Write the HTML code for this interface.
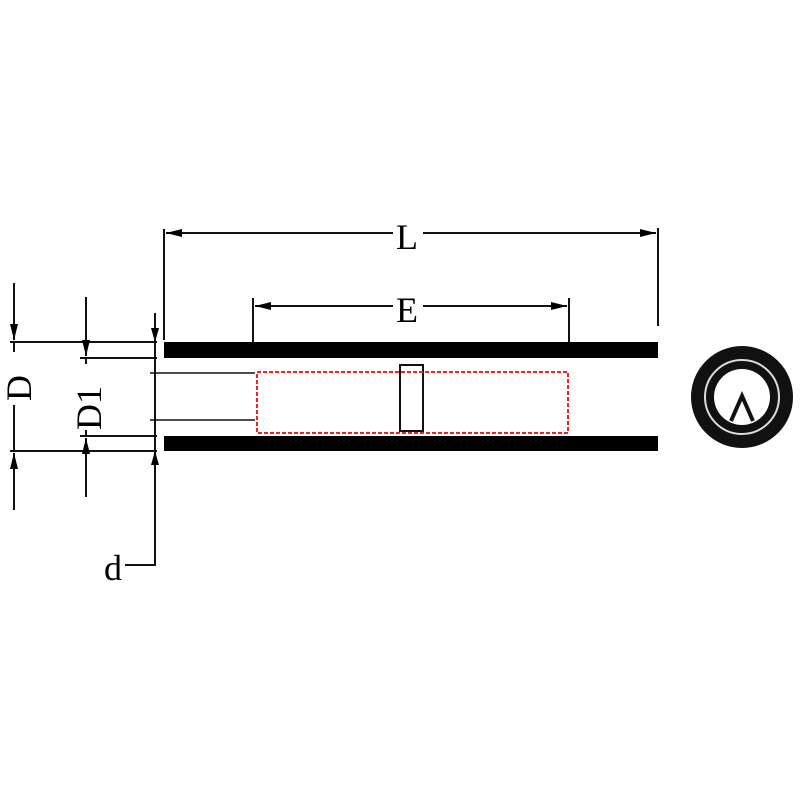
<!DOCTYPE html>
<html><head><style>body{margin:0;background:#fff}</style></head><body>
<svg width="800" height="800" viewBox="0 0 800 800" xmlns="http://www.w3.org/2000/svg" font-family="Liberation Serif, serif">
<defs>
<marker id="a" viewBox="0 0 16 8" refX="16" refY="4" markerWidth="16" markerHeight="8" orient="auto-start-reverse" markerUnits="userSpaceOnUse"><path d="M0,0 L16,4 L0,8 z" fill="#000"/></marker>
</defs>
<g stroke="#111" stroke-width="2" fill="none">
<line x1="164" y1="229" x2="164" y2="340"/>
<line x1="658" y1="228" x2="658" y2="326"/>
<line x1="166" y1="233" x2="656" y2="233" marker-start="url(#a)" marker-end="url(#a)"/>
<line x1="253" y1="298" x2="253" y2="342"/>
<line x1="569" y1="298" x2="569" y2="342"/>
<line x1="255" y1="306" x2="567" y2="306" marker-start="url(#a)" marker-end="url(#a)"/>
<line x1="10" y1="342" x2="157" y2="342"/>
<line x1="10" y1="451" x2="157" y2="451"/>
<line x1="14" y1="283" x2="14" y2="340" marker-end="url(#a)"/>
<line x1="14" y1="510" x2="14" y2="453" marker-end="url(#a)"/>
<line x1="14" y1="342" x2="14" y2="352"/>
<line x1="14" y1="405" x2="14" y2="451"/>
<line x1="80" y1="358" x2="157" y2="358"/>
<line x1="80" y1="436" x2="157" y2="436"/>
<line x1="86" y1="297" x2="86" y2="356" marker-end="url(#a)"/>
<line x1="86" y1="497" x2="86" y2="438" marker-end="url(#a)"/>
<line x1="86" y1="358" x2="86" y2="364"/>
<line x1="86" y1="430" x2="86" y2="436"/>
<polyline points="155,313 155,565 125,565"/>
<line x1="150" y1="373" x2="255" y2="373" stroke-width="1.5"/>
<line x1="150" y1="420" x2="255" y2="420" stroke-width="1.5"/>
<rect x="400" y="365" width="23" height="66" stroke-width="2"/>
</g>
<path d="M155,342 l-4,-14 h8z M155,451 l-4,14 h8z" fill="#000"/>
<rect x="164" y="342" width="494" height="16" fill="#000"/>
<rect x="164" y="436" width="494" height="15" fill="#000"/>
<rect x="257" y="372" width="311" height="61" fill="none" stroke="#e22" stroke-width="2" stroke-dasharray="4,2"/>
<circle cx="742" cy="397" r="51" fill="#111"/>
<circle cx="742" cy="397" r="37" fill="none" stroke="#ddd" stroke-width="2"/>
<circle cx="742" cy="397" r="28" fill="#fff"/>
<path d="M731,421 L742,396 L753,421" fill="none" stroke="#111" stroke-width="4" stroke-linejoin="miter"/>
<rect x="393" y="220" width="30" height="26" fill="#fff"/>
<rect x="393" y="294" width="30" height="26" fill="#fff"/>
<g font-size="36" fill="#000">
<text x="396" y="249">L</text>
<text x="396" y="322">E</text>
<text x="104" y="580">d</text>
<text transform="translate(31,401) rotate(-90)">D</text>
<text transform="translate(101,430) rotate(-90)">D1</text>
</g>
</svg>
</body></html>
